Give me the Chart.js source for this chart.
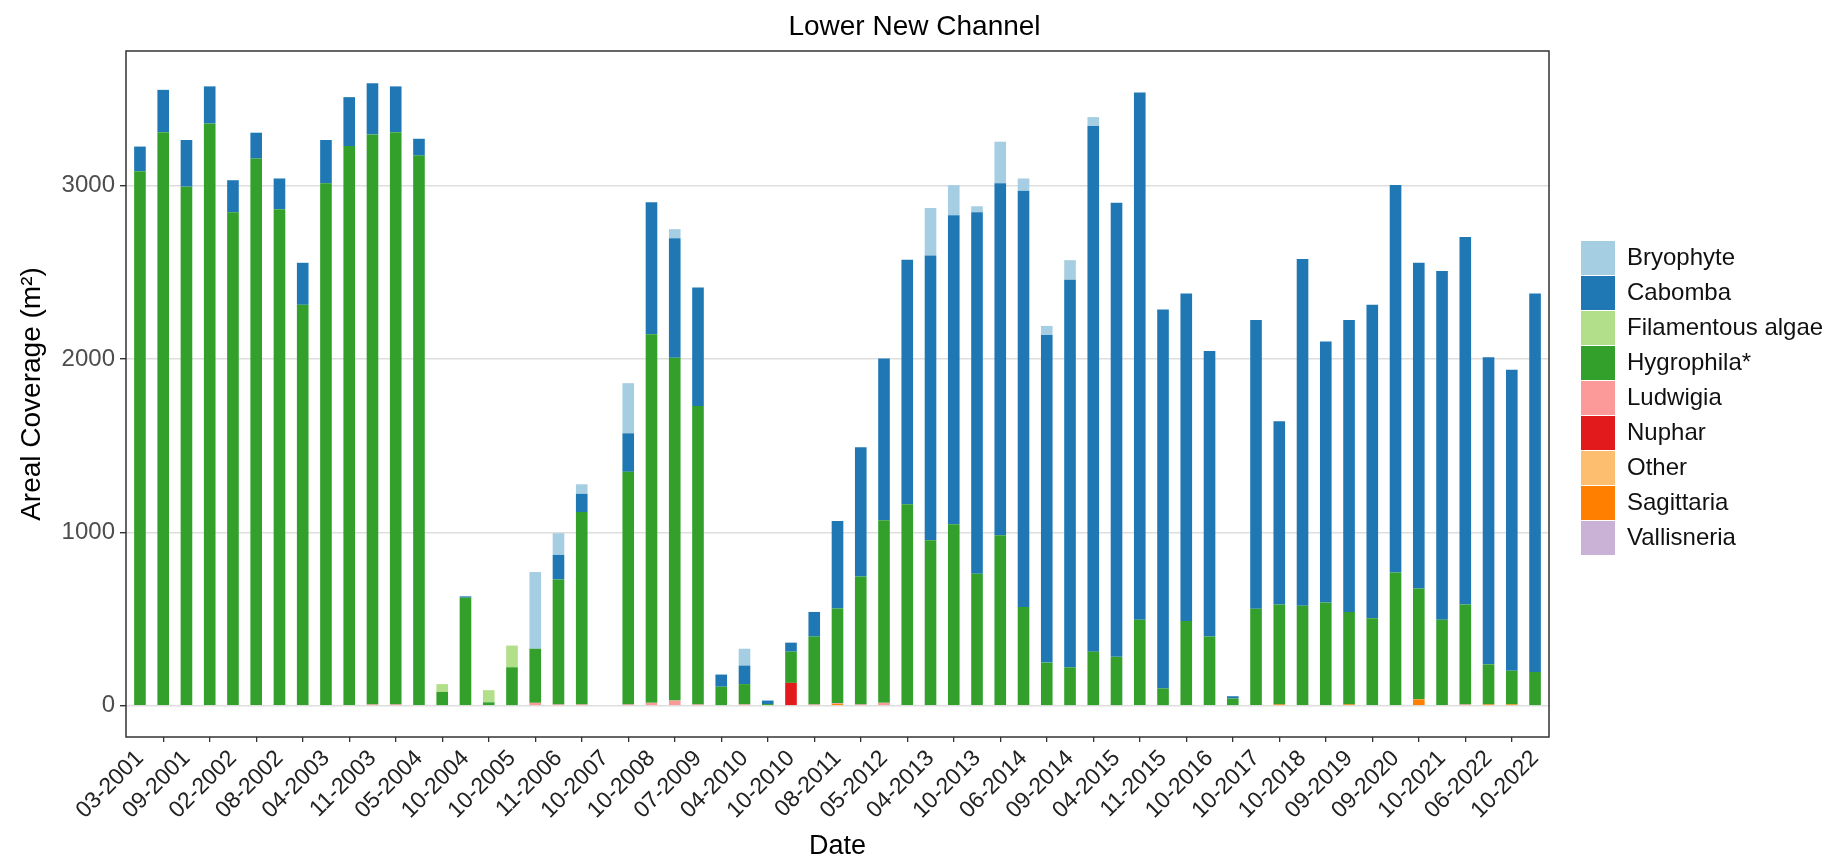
<!DOCTYPE html>
<html><head><meta charset="utf-8">
<script src="https://cdn.jsdelivr.net/npm/chart.js@4/dist/chart.umd.min.js"></script>
<style>html,body{margin:0;padding:0;background:#fff}canvas{display:block}</style>
</head><body>
<canvas id="c" width="1829" height="863"></canvas>
<script>
// Tick labels shown on every other bar (bars 1,3,5,...,61)
const tickLabels = ['03-2001','09-2001','02-2002','08-2002','04-2003','11-2003','05-2004','10-2004','10-2005','11-2006','10-2007','10-2008','07-2009','04-2010','10-2010','08-2011','05-2012','04-2013','10-2013','06-2014','09-2014','04-2015','11-2015','10-2016','10-2017','10-2018','09-2019','09-2020','10-2021','06-2022','10-2022'];
const yTicks = [0, 1000, 2000, 3000];

// Areal coverage (m2) per survey (61 surveys), one array per taxon
const bryophyte = [0,0,0,0,0,0,0,0,0,0, 0,0,0,0,0,0,0,442,125,55, 0,289,0,52,0,0,97,0,0,0, 0,0,0,0,274,174,35,240,70,53, 113,52,0,0,0,0,0,0,0,0, 0,0,0,0,0,0,0,0,0,0, 0];
const cabomba = [142,244,269,214,185,149,177,242,250,282, 295,264,97,0,8,0,0,0,142,105, 0,222,761,689,683,70,107,20,52,142, 504,745,932,1409,1641,1781,2084,2029,2401,1888, 2234,3030,2618,3040,2184,1888,1646,13,1665,1057, 2000,1504,1683,1808,2234,1878,2010,2119,1771,1736, 2182];
const filamentousAlgae = [0,0,0,0,0,0,0,0,0,0, 0,0,0,45,0,70,125,0,0,0, 0,0,0,0,0,0,0,0,0,0, 0,0,0,0,0,0,0,0,0,0, 0,0,0,0,0,0,0,0,0,0, 0,0,0,0,0,0,0,0,0,0, 0];
const hygrophila = [3082,3307,2993,3357,2845,3155,2863,2312,3012,3227, 3286,3299,3172,80,623,20,222,312,720,1109, 0,1341,2125,1977,1720,110,117,10,180,391, 546,738,1053,1162,955,1047,761,983,569,249, 222,312,282,496,100,489,399,42,559,576, 576,596,533,504,768,639,496,576,231,194, 195];
const ludwigia = [0,0,0,0,0,0,0,0,0,0, 8,8,0,0,0,0,0,17,8,8, 0,8,17,30,8,0,8,0,0,8, 5,8,17,0,0,0,0,0,0,0, 0,0,0,0,0,0,0,0,0,0, 0,0,0,0,0,0,0,8,0,0, 0];
const nuphar = [0,0,0,0,0,0,0,0,0,0, 0,0,0,0,0,0,0,0,0,0, 0,0,0,0,0,0,0,0,132,0, 0,0,0,0,0,0,0,0,0,0, 0,0,0,0,0,0,0,0,0,0, 0,0,0,0,0,0,0,0,0,0, 0];
const other = [0,0,0,0,0,0,0,0,0,0, 0,0,0,0,0,0,0,0,0,0, 0,0,0,0,0,0,0,0,0,0, 0,0,0,0,0,0,0,0,0,0, 0,0,0,0,0,0,0,0,0,0, 0,0,0,0,0,0,0,0,0,0, 0];
const sagittaria = [0,0,0,0,0,0,0,0,0,0, 0,0,0,0,0,0,0,0,0,0, 0,0,0,0,0,0,0,0,0,0, 10,0,0,0,0,0,0,0,0,0, 0,0,0,0,0,0,0,0,0,8, 0,0,8,0,0,37,0,0,8,8, 0];
const vallisneria = [0,0,0,0,0,0,0,0,0,0, 0,0,0,0,0,0,0,0,0,0, 0,0,0,0,0,0,0,0,0,0, 0,0,0,0,0,0,0,0,0,0, 0,0,0,0,0,0,0,0,0,0, 0,0,0,0,0,0,0,0,0,0, 0];

Chart.defaults.font.family = "'Liberation Sans', Arial, sans-serif";

// bottom-to-top stacking order
const layers = [
  ['Vallisneria', vallisneria, '#CAB2D6'],
  ['Sagittaria', sagittaria, '#FF7F00'],
  ['Other', other, '#FDBF6F'],
  ['Nuphar', nuphar, '#E31A1C'],
  ['Ludwigia', ludwigia, '#FB9A99'],
  ['Hygrophila*', hygrophila, '#33A02C'],
  ['Filamentous algae', filamentousAlgae, '#B2DF8A'],
  ['Cabomba', cabomba, '#1F78B4'],
  ['Bryophyte', bryophyte, '#A6CEE3']
];

const datasets = layers.map(([label, vals, color]) => ({
  label,
  data: vals.map((v, i) => ({x: i + 1, y: v})),
  backgroundColor: color,
  borderWidth: 0,
  barPercentage: 0.5,
  categoryPercentage: 1.0
}));

const panelBorder = {
  id: 'panelBorder',
  afterDatasetsDraw(chart) {
    const {ctx, chartArea: a} = chart;
    ctx.save();
    ctx.strokeStyle = '#333333';
    ctx.lineWidth = 1.5;
    ctx.strokeRect(a.left, a.top, a.right - a.left, a.bottom - a.top);
    ctx.restore();
  }
};

const legendPlace = {
  id: 'legendPlace',
  beforeLayout(chart) {
    const lg = chart.legend;
    if (lg && !lg._patched) {
      const f = lg.fit;
      lg.fit = function () { f.call(this); this.width = 280; };
      lg._patched = true;
    }
  },
  afterLayout(chart) {
    const lg = chart.legend;
    lg.left += 31;
    lg.top += 4;
    lg.bottom += 4;
  }
};

new Chart(document.getElementById('c'), {
  type: 'bar',
  data: { datasets },
  plugins: [panelBorder, legendPlace],
  options: {
    responsive: false,
    devicePixelRatio: 1,
    animation: false,
    layout: { padding: { left: 0, right: 0, top: 0, bottom: 0 } },
    plugins: {
      tooltip: { enabled: false },
      title: {
        display: true,
        text: 'Lower New Channel',
        color: '#000',
        font: { size: 28, weight: 'normal' },
        padding: { top: 10.5, bottom: 6.9 }
      },
      legend: {
        position: 'right',
        fullSize: false,
        reverse: true,
        labels: {
          boxWidth: 34,
          boxHeight: 34,
          padding: 1,
          color: '#111',
          font: { size: 24 }
        }
      }
    },
    scales: {
      x: {
        type: 'linear',
        stacked: true,
        min: 0.4,
        max: 61.6,
        offset: false,
        afterBuildTicks: (axis) => { axis.ticks = tickLabels.map((l, k) => ({value: 2 * k + 1})); },
        afterFit: (s) => { s.height = 126; },
        ticks: {
          autoSkip: false,
          minRotation: 45,
          maxRotation: 45,
          padding: 3,
          color: '#222',
          font: { size: 23 },
          callback: (v) => tickLabels[(v - 1) / 2]
        },
        grid: { drawOnChartArea: false, drawTicks: true, tickLength: 5, tickColor: '#333', lineWidth: 1.3 },
        border: { display: false },
        title: {
          display: true,
          text: 'Date',
          color: '#000',
          font: { size: 27 },
          padding: { top: 0, bottom: 0 }
        }
      },
      y: {
        type: 'linear',
        stacked: true,
        min: -180,
        max: 3775,
        afterBuildTicks: (axis) => { axis.ticks = yTicks.map(v => ({value: v})); },
        afterFit: (s) => { s.width = 126; },
        ticks: { color: '#4D4D4D', font: { size: 24 }, padding: 5, callback: (v) => String(v) },
        grid: { color: '#DEDEDE', lineWidth: 1.4, drawTicks: true, tickLength: 6, tickColor: '#333' },
        border: { display: false },
        title: {
          display: true,
          text: 'Areal Coverage (m²)',
          color: '#000',
          font: { size: 28 },
          padding: { top: 15, bottom: 0 }
        }
      }
    }
  }
});
</script>
</body></html>
